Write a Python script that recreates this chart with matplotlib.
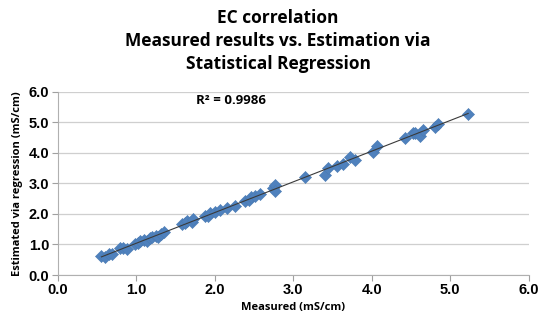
import matplotlib.pyplot as plt
import numpy as np

# Werte (mS/cm)
gemessen = [0.56, 0.60, 0.65, 0.70, 0.80, 0.84, 0.88, 0.99, 1.02, 1.05, 1.10, 1.14,
            1.18, 1.20, 1.25, 1.28, 1.32, 1.35, 1.58, 1.62, 1.65, 1.71, 1.73, 1.88,
            1.92, 1.94, 2.00, 2.07, 2.16, 2.26, 2.39, 2.44, 2.47, 2.52, 2.58, 2.75,
            2.77, 2.77, 3.15, 3.41, 3.45, 3.56, 3.64, 3.73, 3.79, 4.02, 4.07, 4.43,
            4.53, 4.55, 4.62, 4.66, 4.81, 4.85, 5.23]
geschaetzt = [0.62, 0.58, 0.70, 0.68, 0.87, 0.90, 0.86, 1.02, 1.06, 1.10, 1.15, 1.12,
              1.20, 1.24, 1.28, 1.26, 1.34, 1.40, 1.66, 1.70, 1.76, 1.74, 1.84, 1.94,
              1.92, 2.04, 2.06, 2.12, 2.20, 2.26, 2.42, 2.46, 2.54, 2.58, 2.64, 2.86,
              2.96, 2.74, 3.20, 3.28, 3.50, 3.58, 3.64, 3.86, 3.76, 4.02, 4.24, 4.48,
              4.64, 4.66, 4.56, 4.76, 4.86, 4.96, 5.26]
r_quadrat = "R² = 0.9986"

gemessen = np.array(gemessen)
geschaetzt = np.array(geschaetzt)

fig = plt.figure(figsize=(5.4, 3.21), dpi=100)
ax = fig.add_axes([0.1065, 0.1433, 0.8725, 0.5707])

# Trendlinie
steigung, achse = np.polyfit(gemessen, geschaetzt, 1)
xs = np.array([gemessen.min(), gemessen.max()])
ax.plot(xs, steigung * xs + achse, color="#3a3a3a", linewidth=0.8, zorder=3)

ax.scatter(gemessen, geschaetzt, marker="D", s=38, color="#4F81BD",
           edgecolors="#4a7ab3", linewidths=0.4, zorder=2)

ax.set_xlim(0, 6)
ax.set_ylim(0, 6)
ax.set_xticks(np.arange(0, 6.1, 1.0))
ax.set_yticks(np.arange(0, 6.1, 1.0))
ax.set_xticklabels([f"{v:.1f}" for v in np.arange(0, 6.1, 1.0)],
                   fontfamily="Liberation Sans", fontweight="bold", fontsize=10.5)
ax.set_yticklabels([f"{v:.1f}" for v in np.arange(0, 6.1, 1.0)],
                   fontfamily="Liberation Sans", fontweight="bold", fontsize=10.5)
ax.tick_params(axis="both", length=4, color="#a0a0a0", pad=2)

ax.grid(True, axis="y", color="#cfcfcf", linewidth=0.9)
ax.set_axisbelow(True)
for s in ["top", "right"]:
    ax.spines[s].set_visible(False)
ax.spines["left"].set_color("#b0b0b0")
ax.spines["bottom"].set_color("#b0b0b0")

ax.set_xlabel("Measured (mS/cm)", fontfamily="Open Sans", fontweight="bold",
              fontsize=8, labelpad=3)
ax.set_ylabel("Estimated via regression (mS/cm)", fontfamily="Open Sans",
              fontweight="bold", fontsize=8, labelpad=4)

ax.text(0.295, 0.955, r_quadrat, transform=ax.transAxes, fontfamily="Open Sans",
        fontweight="bold", fontsize=9.5, ha="left", va="center")

fig.text(0.515, 1 - 9 / 321, "EC correlation\nMeasured results vs. Estimation via\nStatistical Regression",
         ha="center", va="top", fontfamily="Open Sans", fontweight="bold",
         fontsize=12.5, linespacing=1.35)

plt.savefig("out.png", dpi=100)
